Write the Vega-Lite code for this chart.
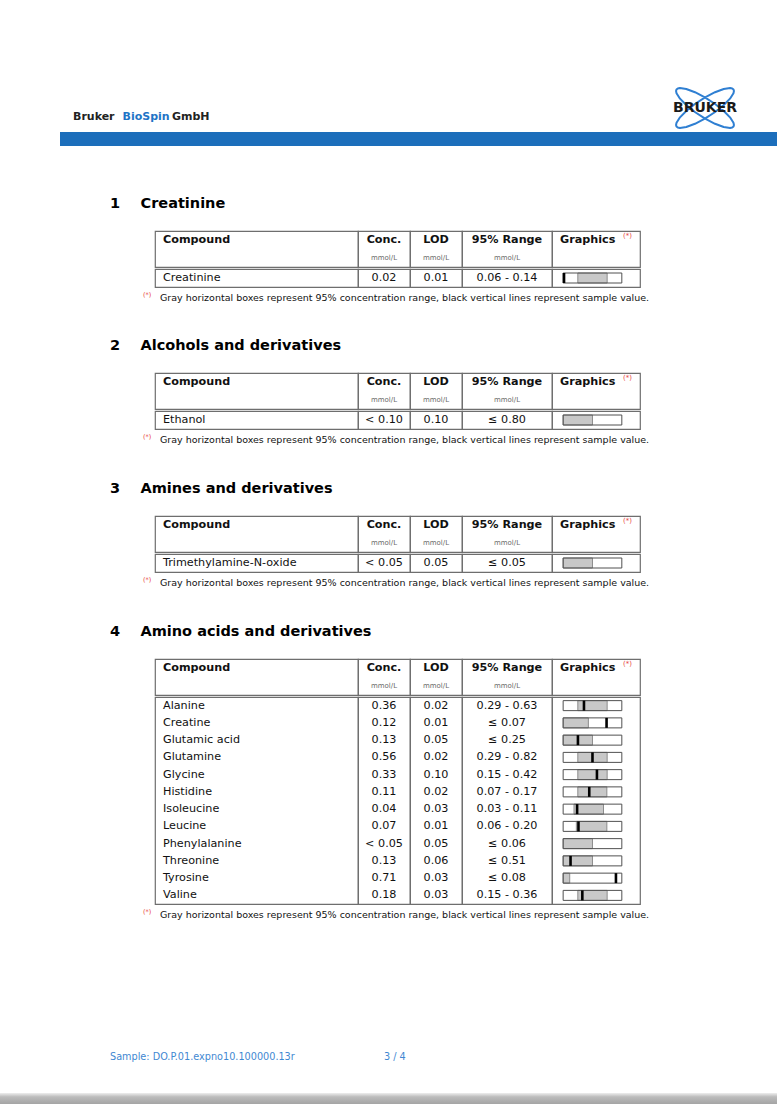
{
"$schema": "https://vega.github.io/schema/vega-lite/v6.json",
"padding": 0,
"background": "white",
"spacing": 0,
"config": {
  "view": {"stroke": null},
  "text": {"font": "DejaVu Sans", "fontSize": 11.2, "color": "#111111", "baseline": "middle"},
  "concat": {"spacing": 0}
},
"datasets": {
  "s1": [{"compound":"Creatinine","conc":"0.02","lod":"0.01","range":"0.06 - 0.14","range_lo_rel":0.25,"range_hi_rel":0.75,"sample_rel":0.015}],
  "s2": [{"compound":"Ethanol","conc":"< 0.10","lod":"0.10","range":"≤ 0.80","range_lo_rel":0,"range_hi_rel":0.5,"sample_rel":null}],
  "s3": [{"compound":"Trimethylamine-N-oxide","conc":"< 0.05","lod":"0.05","range":"≤ 0.05","range_lo_rel":0,"range_hi_rel":0.5,"sample_rel":null}],
  "s4": [
    {"compound":"Alanine","conc":"0.36","lod":"0.02","range":"0.29 - 0.63","range_lo_rel":0.25,"range_hi_rel":0.75,"sample_rel":0.355},
    {"compound":"Creatine","conc":"0.12","lod":"0.01","range":"≤ 0.07","range_lo_rel":0,"range_hi_rel":0.43,"sample_rel":0.74},
    {"compound":"Glutamic acid","conc":"0.13","lod":"0.05","range":"≤ 0.25","range_lo_rel":0,"range_hi_rel":0.5,"sample_rel":0.252},
    {"compound":"Glutamine","conc":"0.56","lod":"0.02","range":"0.29 - 0.82","range_lo_rel":0.25,"range_hi_rel":0.75,"sample_rel":0.5},
    {"compound":"Glycine","conc":"0.33","lod":"0.10","range":"0.15 - 0.42","range_lo_rel":0.25,"range_hi_rel":0.75,"sample_rel":0.576},
    {"compound":"Histidine","conc":"0.11","lod":"0.02","range":"0.07 - 0.17","range_lo_rel":0.25,"range_hi_rel":0.745,"sample_rel":0.445},
    {"compound":"Isoleucine","conc":"0.04","lod":"0.03","range":"0.03 - 0.11","range_lo_rel":0.185,"range_hi_rel":0.688,"sample_rel":0.238},
    {"compound":"Leucine","conc":"0.07","lod":"0.01","range":"0.06 - 0.20","range_lo_rel":0.225,"range_hi_rel":0.745,"sample_rel":0.261},
    {"compound":"Phenylalanine","conc":"< 0.05","lod":"0.05","range":"≤ 0.06","range_lo_rel":0,"range_hi_rel":0.5,"sample_rel":null},
    {"compound":"Threonine","conc":"0.13","lod":"0.06","range":"≤ 0.51","range_lo_rel":0,"range_hi_rel":0.5,"sample_rel":0.126},
    {"compound":"Tyrosine","conc":"0.71","lod":"0.03","range":"≤ 0.08","range_lo_rel":0,"range_hi_rel":0.112,"sample_rel":0.9},
    {"compound":"Valine","conc":"0.18","lod":"0.03","range":"0.15 - 0.36","range_lo_rel":0.25,"range_hi_rel":0.75,"sample_rel":0.327}
  ],
  "note": [{"s":"Gray horizontal boxes represent 95% concentration range, black vertical lines represent sample value."}],
  "star": [{"s":"(*)"}],
  "h_cmp": [{"t":"Compound"}],
  "h_conc": [{"t":"Conc.","u":"mmol/L"}],
  "h_lod": [{"t":"LOD","u":"mmol/L"}],
  "h_rng": [{"t":"95% Range","u":"mmol/L"}],
  "h_gr": [{"t":"Graphics","n":"(*)"}]
},
"vconcat": [
  {"width":1,"height":84,"data":{"values":[]},"mark":"point"},
  {"hconcat":[
    {"width":73,"height":48,"data":{"values":[]},"mark":"point"},
    {"width":148.5,"height":48,
     "data":{"values":[{"w":"Bruker"},{"w":"BioSpin"},{"w":"GmbH"}]},
     "mark":{"type":"text","align":"left","fontWeight":"bold","fontSize":11,"dy":9},
     "encoding":{
       "x":{"field":"w","type":"nominal","sort":null,"bandPosition":0,"scale":{"type":"band","paddingInner":0,"paddingOuter":0},"axis":null},
       "text":{"field":"w"},
       "color":{"field":"w","type":"nominal","scale":{"domain":["Bruker","BioSpin","GmbH"],"range":["#222222","#1f74c6","#222222"]},"legend":null}
     }},
    {"width":443.5,"height":48,"data":{"values":[]},"mark":"point"},
    {"width":78,"height":48,"data":{"values":[{"logo":"BRUKER"}]},
     "layer":[
       {"mark":{"type":"point","shape":"M0.8387,0.5446L0.8009,0.5749L0.7388,0.5878L0.5497,0.5601L0.2944,0.4648L0.0035,0.3134L-0.2877,0.1244L-0.5444,-0.0798L-0.7353,-0.2743L-0.8375,-0.4358L-0.8511,-0.4977L-0.8387,-0.5446L-0.8009,-0.5749L-0.7388,-0.5878L-0.5497,-0.5601L-0.2944,-0.4648L-0.0035,-0.3134L0.2877,-0.1244L0.5444,0.0798L0.7353,0.2743L0.8375,0.4358L0.8511,0.4977ZM0.8387,-0.5446L0.8009,-0.5749L0.7388,-0.5878L0.5497,-0.5601L0.2944,-0.4648L0.0035,-0.3134L-0.2877,-0.1244L-0.5444,0.0798L-0.7353,0.2743L-0.8375,0.4358L-0.8511,0.4977L-0.8387,0.5446L-0.8009,0.5749L-0.7388,0.5878L-0.5497,0.5601L-0.2944,0.4648L-0.0035,0.3134L0.2877,0.1244L0.5444,-0.0798L0.7353,-0.2743L0.8375,-0.4358L0.8511,-0.4977Z","size":4624,"filled":false,"color":"#2f7fd2","strokeWidth":2,"strokeJoin":"round","opacity":1},"encoding":{}},
       {"mark":{"type":"text","fontWeight":"bold","fontSize":14,"color":"#1a1a1a"},"encoding":{"text":{"field":"logo"}}}
     ]}
  ],"spacing":0,"bounds":"flush"},
  {"hconcat":[
    {"width":60,"height":14,"data":{"values":[]},"mark":"point"},
    {"width":717,"height":14,"view":{"fill":"#1c6ebb","stroke":null},"data":{"values":[]},"mark":"point"}
  ],"spacing":0,"bounds":"flush"},
  {"width":1,"height":32,"data":{"values":[]},"mark":"point"},

  {"hconcat":[
    {"width":110,"height":52,"data":{"values":[]},"mark":"point"},
    {"width":61,"height":52,"data":{"values":[{"part":"number","label":"1"},{"part":"title","label":"Creatinine"}]},
     "mark":{"type":"text","align":"left","fontWeight":"bold","fontSize":14.5,"color":"#000000"},
     "encoding":{"x":{"field":"part","type":"nominal","sort":null,"bandPosition":0,"scale":{"type":"band","paddingInner":0,"paddingOuter":0},"axis":null},"text":{"field":"label"}}}
  ],"spacing":0,"bounds":"flush"},
  {"vconcat":[
    {"hconcat":[
      {"width":155,"height":36,"data":{"values":[]},"mark":"point"},
      {"width":203,"height":36,"view":{"stroke":"#6e6e6e","strokeWidth":1.2},"data":{"name":"h_cmp"},
       "mark":{"type":"text","align":"left","dx":8,"fontWeight":"bold"},
       "encoding":{"text":{"field":"t"},"x":{"datum":0,"type":"quantitative","scale":{"domain":[0,1]},"axis":null},"y":{"datum":"a","type":"nominal","scale":{"domain":["a","b"]},"axis":null}}},
      {"width":52,"height":36,"view":{"stroke":"#6e6e6e","strokeWidth":1.2},"data":{"name":"h_conc"},
       "layer":[
         {"mark":{"type":"text","fontWeight":"bold"},"encoding":{"text":{"field":"t"},"y":{"datum":"a","type":"nominal","scale":{"domain":["a","b"]},"axis":null}}},
         {"mark":{"type":"text","fontSize":7,"color":"#6a6a6a"},"encoding":{"text":{"field":"u"},"y":{"datum":"b","type":"nominal","axis":null}}}
       ]},
      {"width":52,"height":36,"view":{"stroke":"#6e6e6e","strokeWidth":1.2},"data":{"name":"h_lod"},
       "layer":[
         {"mark":{"type":"text","fontWeight":"bold"},"encoding":{"text":{"field":"t"},"y":{"datum":"a","type":"nominal","scale":{"domain":["a","b"]},"axis":null}}},
         {"mark":{"type":"text","fontSize":7,"color":"#6a6a6a"},"encoding":{"text":{"field":"u"},"y":{"datum":"b","type":"nominal","axis":null}}}
       ]},
      {"width":90,"height":36,"view":{"stroke":"#6e6e6e","strokeWidth":1.2},"data":{"name":"h_rng"},
       "layer":[
         {"mark":{"type":"text","fontWeight":"bold"},"encoding":{"text":{"field":"t"},"y":{"datum":"a","type":"nominal","scale":{"domain":["a","b"]},"axis":null}}},
         {"mark":{"type":"text","fontSize":7,"color":"#6a6a6a"},"encoding":{"text":{"field":"u"},"y":{"datum":"b","type":"nominal","axis":null}}}
       ]},
      {"width":88,"height":36,"view":{"stroke":"#6e6e6e","strokeWidth":1.2},"data":{"name":"h_gr"},
       "layer":[
         {"mark":{"type":"text","align":"left","dx":8,"fontWeight":"bold"},"encoding":{"text":{"field":"t"},"x":{"datum":0,"type":"quantitative","scale":{"domain":[0,1]},"axis":null},"y":{"datum":"a","type":"nominal","scale":{"domain":["a","b"]},"axis":null}}},
         {"mark":{"type":"text","align":"right","dx":-8,"dy":-4,"fontSize":7,"color":"#e8453c"},"encoding":{"text":{"field":"n"},"x":{"datum":1,"type":"quantitative"},"y":{"datum":"a","type":"nominal"}}}
       ]}
    ],"spacing":0,"bounds":"flush"},
    {"hconcat":[
      {"width":155,"height":18,"data":{"values":[]},"mark":"point"},
      {"width":203,"height":18,"view":{"stroke":"#6e6e6e","strokeWidth":1.2},"data":{"name":"s1"},
       "mark":{"type":"text","align":"left","dx":8},
       "encoding":{"text":{"field":"compound"},"x":{"datum":0,"type":"quantitative","scale":{"domain":[0,1]},"axis":null},"y":{"field":"compound","type":"nominal","sort":null,"axis":null}}},
      {"width":52,"height":18,"view":{"stroke":"#6e6e6e","strokeWidth":1.2},"data":{"name":"s1"},"mark":{"type":"text"},
       "encoding":{"text":{"field":"conc"},"y":{"field":"compound","type":"nominal","sort":null,"axis":null}}},
      {"width":52,"height":18,"view":{"stroke":"#6e6e6e","strokeWidth":1.2},"data":{"name":"s1"},"mark":{"type":"text"},
       "encoding":{"text":{"field":"lod"},"y":{"field":"compound","type":"nominal","sort":null,"axis":null}}},
      {"width":90,"height":18,"view":{"stroke":"#6e6e6e","strokeWidth":1.2},"data":{"name":"s1"},"mark":{"type":"text"},
       "encoding":{"text":{"field":"range"},"y":{"field":"compound","type":"nominal","sort":null,"axis":null}}},
      {"width":88,"height":18,"view":{"stroke":"#6e6e6e","strokeWidth":1.2},"data":{"name":"s1"},
       "encoding":{"y":{"field":"compound","type":"nominal","sort":null,"axis":null,"scale":{"type":"band","paddingInner":0,"paddingOuter":0}}},
       "layer":[
         {"mark":{"type":"bar","height":10,"fill":"#ffffff","opacity":1},"encoding":{"x":{"datum":0,"type":"quantitative","scale":{"domain":[-0.19,1.31],"nice":false,"zero":false},"axis":null},"x2":{"datum":1}}},
         {"mark":{"type":"bar","height":10,"fill":"#c8c8c8","stroke":"#8c8c8c","strokeWidth":1,"opacity":1},"encoding":{"x":{"field":"range_lo_rel","type":"quantitative"},"x2":{"field":"range_hi_rel"}}},
         {"mark":{"type":"bar","height":10,"fillOpacity":0,"stroke":"#505050","strokeWidth":1,"opacity":1},"encoding":{"x":{"datum":0,"type":"quantitative"},"x2":{"datum":1}}},
         {"mark":{"type":"tick","orient":"vertical","thickness":2.6,"size":10,"color":"#000000","opacity":1},"encoding":{"x":{"field":"sample_rel","type":"quantitative"}}}
       ]}
    ],"spacing":0,"bounds":"flush"}
  ],"spacing":0},
  {"hconcat":[
    {"width":143,"height":19,"data":{"values":[]},"mark":"point"},
    {"width":17,"height":19,"data":{"name":"star"},"mark":{"type":"text","align":"left","fontSize":6.5,"color":"#e8453c","dy":-3},"encoding":{"text":{"field":"s"},"x":{"datum":0,"type":"quantitative","scale":{"domain":[0,1]},"axis":null}}},
    {"width":500,"height":19,"data":{"name":"note"},"mark":{"type":"text","align":"left","fontSize":9.5},"encoding":{"text":{"field":"s"},"x":{"datum":0,"type":"quantitative","scale":{"domain":[0,1]},"axis":null}}}
  ],"spacing":0,"bounds":"flush"},
  {"width":1,"height":12.8,"data":{"values":[]},"mark":"point"},

  {"hconcat":[
    {"width":110,"height":52,"data":{"values":[]},"mark":"point"},
    {"width":61,"height":52,"data":{"values":[{"part":"number","label":"2"},{"part":"title","label":"Alcohols and derivatives"}]},
     "mark":{"type":"text","align":"left","fontWeight":"bold","fontSize":14.5,"color":"#000000"},
     "encoding":{"x":{"field":"part","type":"nominal","sort":null,"bandPosition":0,"scale":{"type":"band","paddingInner":0,"paddingOuter":0},"axis":null},"text":{"field":"label"}}}
  ],"spacing":0,"bounds":"flush"},
  {"vconcat":[
    {"hconcat":[
      {"width":155,"height":36,"data":{"values":[]},"mark":"point"},
      {"width":203,"height":36,"view":{"stroke":"#6e6e6e","strokeWidth":1.2},"data":{"name":"h_cmp"},
       "mark":{"type":"text","align":"left","dx":8,"fontWeight":"bold"},
       "encoding":{"text":{"field":"t"},"x":{"datum":0,"type":"quantitative","scale":{"domain":[0,1]},"axis":null},"y":{"datum":"a","type":"nominal","scale":{"domain":["a","b"]},"axis":null}}},
      {"width":52,"height":36,"view":{"stroke":"#6e6e6e","strokeWidth":1.2},"data":{"name":"h_conc"},
       "layer":[
         {"mark":{"type":"text","fontWeight":"bold"},"encoding":{"text":{"field":"t"},"y":{"datum":"a","type":"nominal","scale":{"domain":["a","b"]},"axis":null}}},
         {"mark":{"type":"text","fontSize":7,"color":"#6a6a6a"},"encoding":{"text":{"field":"u"},"y":{"datum":"b","type":"nominal","axis":null}}}
       ]},
      {"width":52,"height":36,"view":{"stroke":"#6e6e6e","strokeWidth":1.2},"data":{"name":"h_lod"},
       "layer":[
         {"mark":{"type":"text","fontWeight":"bold"},"encoding":{"text":{"field":"t"},"y":{"datum":"a","type":"nominal","scale":{"domain":["a","b"]},"axis":null}}},
         {"mark":{"type":"text","fontSize":7,"color":"#6a6a6a"},"encoding":{"text":{"field":"u"},"y":{"datum":"b","type":"nominal","axis":null}}}
       ]},
      {"width":90,"height":36,"view":{"stroke":"#6e6e6e","strokeWidth":1.2},"data":{"name":"h_rng"},
       "layer":[
         {"mark":{"type":"text","fontWeight":"bold"},"encoding":{"text":{"field":"t"},"y":{"datum":"a","type":"nominal","scale":{"domain":["a","b"]},"axis":null}}},
         {"mark":{"type":"text","fontSize":7,"color":"#6a6a6a"},"encoding":{"text":{"field":"u"},"y":{"datum":"b","type":"nominal","axis":null}}}
       ]},
      {"width":88,"height":36,"view":{"stroke":"#6e6e6e","strokeWidth":1.2},"data":{"name":"h_gr"},
       "layer":[
         {"mark":{"type":"text","align":"left","dx":8,"fontWeight":"bold"},"encoding":{"text":{"field":"t"},"x":{"datum":0,"type":"quantitative","scale":{"domain":[0,1]},"axis":null},"y":{"datum":"a","type":"nominal","scale":{"domain":["a","b"]},"axis":null}}},
         {"mark":{"type":"text","align":"right","dx":-8,"dy":-4,"fontSize":7,"color":"#e8453c"},"encoding":{"text":{"field":"n"},"x":{"datum":1,"type":"quantitative"},"y":{"datum":"a","type":"nominal"}}}
       ]}
    ],"spacing":0,"bounds":"flush"},
    {"hconcat":[
      {"width":155,"height":18,"data":{"values":[]},"mark":"point"},
      {"width":203,"height":18,"view":{"stroke":"#6e6e6e","strokeWidth":1.2},"data":{"name":"s2"},
       "mark":{"type":"text","align":"left","dx":8},
       "encoding":{"text":{"field":"compound"},"x":{"datum":0,"type":"quantitative","scale":{"domain":[0,1]},"axis":null},"y":{"field":"compound","type":"nominal","sort":null,"axis":null}}},
      {"width":52,"height":18,"view":{"stroke":"#6e6e6e","strokeWidth":1.2},"data":{"name":"s2"},"mark":{"type":"text"},
       "encoding":{"text":{"field":"conc"},"y":{"field":"compound","type":"nominal","sort":null,"axis":null}}},
      {"width":52,"height":18,"view":{"stroke":"#6e6e6e","strokeWidth":1.2},"data":{"name":"s2"},"mark":{"type":"text"},
       "encoding":{"text":{"field":"lod"},"y":{"field":"compound","type":"nominal","sort":null,"axis":null}}},
      {"width":90,"height":18,"view":{"stroke":"#6e6e6e","strokeWidth":1.2},"data":{"name":"s2"},"mark":{"type":"text"},
       "encoding":{"text":{"field":"range"},"y":{"field":"compound","type":"nominal","sort":null,"axis":null}}},
      {"width":88,"height":18,"view":{"stroke":"#6e6e6e","strokeWidth":1.2},"data":{"name":"s2"},
       "encoding":{"y":{"field":"compound","type":"nominal","sort":null,"axis":null,"scale":{"type":"band","paddingInner":0,"paddingOuter":0}}},
       "layer":[
         {"mark":{"type":"bar","height":10,"fill":"#ffffff","opacity":1},"encoding":{"x":{"datum":0,"type":"quantitative","scale":{"domain":[-0.19,1.31],"nice":false,"zero":false},"axis":null},"x2":{"datum":1}}},
         {"mark":{"type":"bar","height":10,"fill":"#c8c8c8","stroke":"#8c8c8c","strokeWidth":1,"opacity":1},"encoding":{"x":{"field":"range_lo_rel","type":"quantitative"},"x2":{"field":"range_hi_rel"}}},
         {"mark":{"type":"bar","height":10,"fillOpacity":0,"stroke":"#505050","strokeWidth":1,"opacity":1},"encoding":{"x":{"datum":0,"type":"quantitative"},"x2":{"datum":1}}},
         {"mark":{"type":"tick","orient":"vertical","thickness":2.6,"size":10,"color":"#000000","opacity":1},"encoding":{"x":{"field":"sample_rel","type":"quantitative"}}}
       ]}
    ],"spacing":0,"bounds":"flush"}
  ],"spacing":0},
  {"hconcat":[
    {"width":143,"height":19,"data":{"values":[]},"mark":"point"},
    {"width":17,"height":19,"data":{"name":"star"},"mark":{"type":"text","align":"left","fontSize":6.5,"color":"#e8453c","dy":-3},"encoding":{"text":{"field":"s"},"x":{"datum":0,"type":"quantitative","scale":{"domain":[0,1]},"axis":null}}},
    {"width":500,"height":19,"data":{"name":"note"},"mark":{"type":"text","align":"left","fontSize":9.5},"encoding":{"text":{"field":"s"},"x":{"datum":0,"type":"quantitative","scale":{"domain":[0,1]},"axis":null}}}
  ],"spacing":0,"bounds":"flush"},
  {"width":1,"height":13.8,"data":{"values":[]},"mark":"point"},

  {"hconcat":[
    {"width":110,"height":52,"data":{"values":[]},"mark":"point"},
    {"width":61,"height":52,"data":{"values":[{"part":"number","label":"3"},{"part":"title","label":"Amines and derivatives"}]},
     "mark":{"type":"text","align":"left","fontWeight":"bold","fontSize":14.5,"color":"#000000"},
     "encoding":{"x":{"field":"part","type":"nominal","sort":null,"bandPosition":0,"scale":{"type":"band","paddingInner":0,"paddingOuter":0},"axis":null},"text":{"field":"label"}}}
  ],"spacing":0,"bounds":"flush"},
  {"vconcat":[
    {"hconcat":[
      {"width":155,"height":36,"data":{"values":[]},"mark":"point"},
      {"width":203,"height":36,"view":{"stroke":"#6e6e6e","strokeWidth":1.2},"data":{"name":"h_cmp"},
       "mark":{"type":"text","align":"left","dx":8,"fontWeight":"bold"},
       "encoding":{"text":{"field":"t"},"x":{"datum":0,"type":"quantitative","scale":{"domain":[0,1]},"axis":null},"y":{"datum":"a","type":"nominal","scale":{"domain":["a","b"]},"axis":null}}},
      {"width":52,"height":36,"view":{"stroke":"#6e6e6e","strokeWidth":1.2},"data":{"name":"h_conc"},
       "layer":[
         {"mark":{"type":"text","fontWeight":"bold"},"encoding":{"text":{"field":"t"},"y":{"datum":"a","type":"nominal","scale":{"domain":["a","b"]},"axis":null}}},
         {"mark":{"type":"text","fontSize":7,"color":"#6a6a6a"},"encoding":{"text":{"field":"u"},"y":{"datum":"b","type":"nominal","axis":null}}}
       ]},
      {"width":52,"height":36,"view":{"stroke":"#6e6e6e","strokeWidth":1.2},"data":{"name":"h_lod"},
       "layer":[
         {"mark":{"type":"text","fontWeight":"bold"},"encoding":{"text":{"field":"t"},"y":{"datum":"a","type":"nominal","scale":{"domain":["a","b"]},"axis":null}}},
         {"mark":{"type":"text","fontSize":7,"color":"#6a6a6a"},"encoding":{"text":{"field":"u"},"y":{"datum":"b","type":"nominal","axis":null}}}
       ]},
      {"width":90,"height":36,"view":{"stroke":"#6e6e6e","strokeWidth":1.2},"data":{"name":"h_rng"},
       "layer":[
         {"mark":{"type":"text","fontWeight":"bold"},"encoding":{"text":{"field":"t"},"y":{"datum":"a","type":"nominal","scale":{"domain":["a","b"]},"axis":null}}},
         {"mark":{"type":"text","fontSize":7,"color":"#6a6a6a"},"encoding":{"text":{"field":"u"},"y":{"datum":"b","type":"nominal","axis":null}}}
       ]},
      {"width":88,"height":36,"view":{"stroke":"#6e6e6e","strokeWidth":1.2},"data":{"name":"h_gr"},
       "layer":[
         {"mark":{"type":"text","align":"left","dx":8,"fontWeight":"bold"},"encoding":{"text":{"field":"t"},"x":{"datum":0,"type":"quantitative","scale":{"domain":[0,1]},"axis":null},"y":{"datum":"a","type":"nominal","scale":{"domain":["a","b"]},"axis":null}}},
         {"mark":{"type":"text","align":"right","dx":-8,"dy":-4,"fontSize":7,"color":"#e8453c"},"encoding":{"text":{"field":"n"},"x":{"datum":1,"type":"quantitative"},"y":{"datum":"a","type":"nominal"}}}
       ]}
    ],"spacing":0,"bounds":"flush"},
    {"hconcat":[
      {"width":155,"height":18,"data":{"values":[]},"mark":"point"},
      {"width":203,"height":18,"view":{"stroke":"#6e6e6e","strokeWidth":1.2},"data":{"name":"s3"},
       "mark":{"type":"text","align":"left","dx":8},
       "encoding":{"text":{"field":"compound"},"x":{"datum":0,"type":"quantitative","scale":{"domain":[0,1]},"axis":null},"y":{"field":"compound","type":"nominal","sort":null,"axis":null}}},
      {"width":52,"height":18,"view":{"stroke":"#6e6e6e","strokeWidth":1.2},"data":{"name":"s3"},"mark":{"type":"text"},
       "encoding":{"text":{"field":"conc"},"y":{"field":"compound","type":"nominal","sort":null,"axis":null}}},
      {"width":52,"height":18,"view":{"stroke":"#6e6e6e","strokeWidth":1.2},"data":{"name":"s3"},"mark":{"type":"text"},
       "encoding":{"text":{"field":"lod"},"y":{"field":"compound","type":"nominal","sort":null,"axis":null}}},
      {"width":90,"height":18,"view":{"stroke":"#6e6e6e","strokeWidth":1.2},"data":{"name":"s3"},"mark":{"type":"text"},
       "encoding":{"text":{"field":"range"},"y":{"field":"compound","type":"nominal","sort":null,"axis":null}}},
      {"width":88,"height":18,"view":{"stroke":"#6e6e6e","strokeWidth":1.2},"data":{"name":"s3"},
       "encoding":{"y":{"field":"compound","type":"nominal","sort":null,"axis":null,"scale":{"type":"band","paddingInner":0,"paddingOuter":0}}},
       "layer":[
         {"mark":{"type":"bar","height":10,"fill":"#ffffff","opacity":1},"encoding":{"x":{"datum":0,"type":"quantitative","scale":{"domain":[-0.19,1.31],"nice":false,"zero":false},"axis":null},"x2":{"datum":1}}},
         {"mark":{"type":"bar","height":10,"fill":"#c8c8c8","stroke":"#8c8c8c","strokeWidth":1,"opacity":1},"encoding":{"x":{"field":"range_lo_rel","type":"quantitative"},"x2":{"field":"range_hi_rel"}}},
         {"mark":{"type":"bar","height":10,"fillOpacity":0,"stroke":"#505050","strokeWidth":1,"opacity":1},"encoding":{"x":{"datum":0,"type":"quantitative"},"x2":{"datum":1}}},
         {"mark":{"type":"tick","orient":"vertical","thickness":2.6,"size":10,"color":"#000000","opacity":1},"encoding":{"x":{"field":"sample_rel","type":"quantitative"}}}
       ]}
    ],"spacing":0,"bounds":"flush"}
  ],"spacing":0},
  {"hconcat":[
    {"width":143,"height":19,"data":{"values":[]},"mark":"point"},
    {"width":17,"height":19,"data":{"name":"star"},"mark":{"type":"text","align":"left","fontSize":6.5,"color":"#e8453c","dy":-3},"encoding":{"text":{"field":"s"},"x":{"datum":0,"type":"quantitative","scale":{"domain":[0,1]},"axis":null}}},
    {"width":500,"height":19,"data":{"name":"note"},"mark":{"type":"text","align":"left","fontSize":9.5},"encoding":{"text":{"field":"s"},"x":{"datum":0,"type":"quantitative","scale":{"domain":[0,1]},"axis":null}}}
  ],"spacing":0,"bounds":"flush"},
  {"width":1,"height":13.8,"data":{"values":[]},"mark":"point"},

  {"hconcat":[
    {"width":110,"height":52,"data":{"values":[]},"mark":"point"},
    {"width":61,"height":52,"data":{"values":[{"part":"number","label":"4"},{"part":"title","label":"Amino acids and derivatives"}]},
     "mark":{"type":"text","align":"left","fontWeight":"bold","fontSize":14.5,"color":"#000000"},
     "encoding":{"x":{"field":"part","type":"nominal","sort":null,"bandPosition":0,"scale":{"type":"band","paddingInner":0,"paddingOuter":0},"axis":null},"text":{"field":"label"}}}
  ],"spacing":0,"bounds":"flush"},
  {"vconcat":[
    {"hconcat":[
      {"width":155,"height":36,"data":{"values":[]},"mark":"point"},
      {"width":203,"height":36,"view":{"stroke":"#6e6e6e","strokeWidth":1.2},"data":{"name":"h_cmp"},
       "mark":{"type":"text","align":"left","dx":8,"fontWeight":"bold"},
       "encoding":{"text":{"field":"t"},"x":{"datum":0,"type":"quantitative","scale":{"domain":[0,1]},"axis":null},"y":{"datum":"a","type":"nominal","scale":{"domain":["a","b"]},"axis":null}}},
      {"width":52,"height":36,"view":{"stroke":"#6e6e6e","strokeWidth":1.2},"data":{"name":"h_conc"},
       "layer":[
         {"mark":{"type":"text","fontWeight":"bold"},"encoding":{"text":{"field":"t"},"y":{"datum":"a","type":"nominal","scale":{"domain":["a","b"]},"axis":null}}},
         {"mark":{"type":"text","fontSize":7,"color":"#6a6a6a"},"encoding":{"text":{"field":"u"},"y":{"datum":"b","type":"nominal","axis":null}}}
       ]},
      {"width":52,"height":36,"view":{"stroke":"#6e6e6e","strokeWidth":1.2},"data":{"name":"h_lod"},
       "layer":[
         {"mark":{"type":"text","fontWeight":"bold"},"encoding":{"text":{"field":"t"},"y":{"datum":"a","type":"nominal","scale":{"domain":["a","b"]},"axis":null}}},
         {"mark":{"type":"text","fontSize":7,"color":"#6a6a6a"},"encoding":{"text":{"field":"u"},"y":{"datum":"b","type":"nominal","axis":null}}}
       ]},
      {"width":90,"height":36,"view":{"stroke":"#6e6e6e","strokeWidth":1.2},"data":{"name":"h_rng"},
       "layer":[
         {"mark":{"type":"text","fontWeight":"bold"},"encoding":{"text":{"field":"t"},"y":{"datum":"a","type":"nominal","scale":{"domain":["a","b"]},"axis":null}}},
         {"mark":{"type":"text","fontSize":7,"color":"#6a6a6a"},"encoding":{"text":{"field":"u"},"y":{"datum":"b","type":"nominal","axis":null}}}
       ]},
      {"width":88,"height":36,"view":{"stroke":"#6e6e6e","strokeWidth":1.2},"data":{"name":"h_gr"},
       "layer":[
         {"mark":{"type":"text","align":"left","dx":8,"fontWeight":"bold"},"encoding":{"text":{"field":"t"},"x":{"datum":0,"type":"quantitative","scale":{"domain":[0,1]},"axis":null},"y":{"datum":"a","type":"nominal","scale":{"domain":["a","b"]},"axis":null}}},
         {"mark":{"type":"text","align":"right","dx":-8,"dy":-4,"fontSize":7,"color":"#e8453c"},"encoding":{"text":{"field":"n"},"x":{"datum":1,"type":"quantitative"},"y":{"datum":"a","type":"nominal"}}}
       ]}
    ],"spacing":0,"bounds":"flush"},
    {"hconcat":[
      {"width":155,"height":207,"data":{"values":[]},"mark":"point"},
      {"width":203,"height":207,"view":{"stroke":"#6e6e6e","strokeWidth":1.2},"data":{"name":"s4"},
       "mark":{"type":"text","align":"left","dx":8},
       "encoding":{"text":{"field":"compound"},"x":{"datum":0,"type":"quantitative","scale":{"domain":[0,1]},"axis":null},"y":{"field":"compound","type":"nominal","sort":null,"axis":null}}},
      {"width":52,"height":207,"view":{"stroke":"#6e6e6e","strokeWidth":1.2},"data":{"name":"s4"},"mark":{"type":"text"},
       "encoding":{"text":{"field":"conc"},"y":{"field":"compound","type":"nominal","sort":null,"axis":null}}},
      {"width":52,"height":207,"view":{"stroke":"#6e6e6e","strokeWidth":1.2},"data":{"name":"s4"},"mark":{"type":"text"},
       "encoding":{"text":{"field":"lod"},"y":{"field":"compound","type":"nominal","sort":null,"axis":null}}},
      {"width":90,"height":207,"view":{"stroke":"#6e6e6e","strokeWidth":1.2},"data":{"name":"s4"},"mark":{"type":"text"},
       "encoding":{"text":{"field":"range"},"y":{"field":"compound","type":"nominal","sort":null,"axis":null}}},
      {"width":88,"height":207,"view":{"stroke":"#6e6e6e","strokeWidth":1.2},"data":{"name":"s4"},
       "encoding":{"y":{"field":"compound","type":"nominal","sort":null,"axis":null,"scale":{"type":"band","paddingInner":0,"paddingOuter":0}}},
       "layer":[
         {"mark":{"type":"bar","height":10,"fill":"#ffffff","opacity":1},"encoding":{"x":{"datum":0,"type":"quantitative","scale":{"domain":[-0.19,1.31],"nice":false,"zero":false},"axis":null},"x2":{"datum":1}}},
         {"mark":{"type":"bar","height":10,"fill":"#c8c8c8","stroke":"#8c8c8c","strokeWidth":1,"opacity":1},"encoding":{"x":{"field":"range_lo_rel","type":"quantitative"},"x2":{"field":"range_hi_rel"}}},
         {"mark":{"type":"bar","height":10,"fillOpacity":0,"stroke":"#505050","strokeWidth":1,"opacity":1},"encoding":{"x":{"datum":0,"type":"quantitative"},"x2":{"datum":1}}},
         {"mark":{"type":"tick","orient":"vertical","thickness":2.6,"size":10,"color":"#000000","opacity":1},"encoding":{"x":{"field":"sample_rel","type":"quantitative"}}}
       ]}
    ],"spacing":0,"bounds":"flush"}
  ],"spacing":0},
  {"hconcat":[
    {"width":143,"height":19,"data":{"values":[]},"mark":"point"},
    {"width":17,"height":19,"data":{"name":"star"},"mark":{"type":"text","align":"left","fontSize":6.5,"color":"#e8453c","dy":-3},"encoding":{"text":{"field":"s"},"x":{"datum":0,"type":"quantitative","scale":{"domain":[0,1]},"axis":null}}},
    {"width":500,"height":19,"data":{"name":"note"},"mark":{"type":"text","align":"left","fontSize":9.5},"encoding":{"text":{"field":"s"},"x":{"datum":0,"type":"quantitative","scale":{"domain":[0,1]},"axis":null}}}
  ],"spacing":0,"bounds":"flush"},
  {"width":1,"height":122.9,"data":{"values":[]},"mark":"point"},
  {"hconcat":[
    {"width":110,"height":20,"data":{"values":[]},"mark":"point"},
    {"width":274,"height":20,"data":{"values":[{"s":"Sample:  DO.P.01.expno10.100000.13r"}]},"mark":{"type":"text","align":"left","fontSize":9.7,"color":"#3f88d2"},"encoding":{"text":{"field":"s"},"x":{"datum":0,"type":"quantitative","scale":{"domain":[0,1]},"axis":null}}},
    {"width":60,"height":20,"data":{"values":[{"s":"3 / 4"}]},"mark":{"type":"text","align":"left","fontSize":9.7,"color":"#3f88d2"},"encoding":{"text":{"field":"s"},"x":{"datum":0,"type":"quantitative","scale":{"domain":[0,1]},"axis":null}}}
  ],"spacing":0,"bounds":"flush"},
  {"width":1,"height":26,"data":{"values":[]},"mark":"point"},
  {"width":777,"height":11,"data":{"values":[{}]},
   "mark":{"type":"rect","fill":{"gradient":"linear","x1":0,"y1":0,"x2":0,"y2":1,"stops":[{"offset":0,"color":"#eeeeee"},{"offset":0.35,"color":"#bcbcbc"},{"offset":1,"color":"#a4a4a4"}]}},
   "encoding":{}}
]
}
